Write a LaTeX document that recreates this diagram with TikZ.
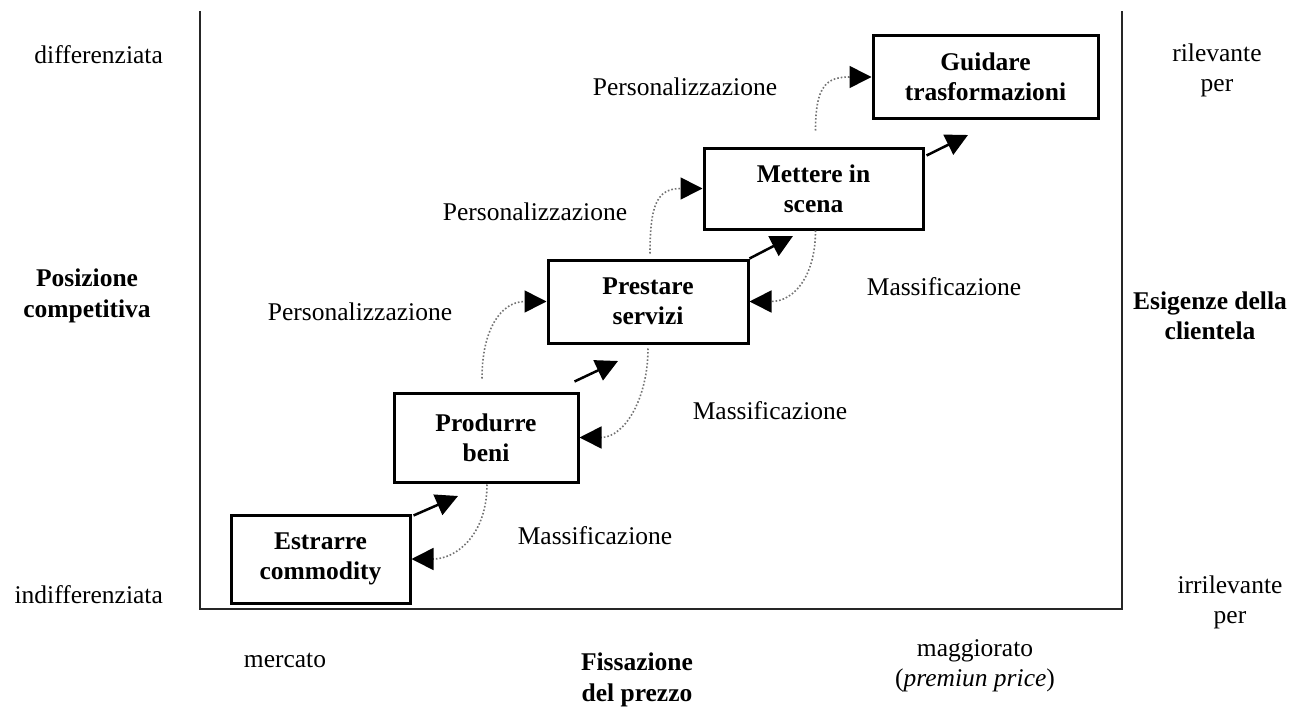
\documentclass[tikz,border=0pt]{standalone}
\usepackage{fontspec}
\setmainfont{Liberation Serif}
\usetikzlibrary{arrows.meta,calc}
\begin{document}
\begin{tikzpicture}[x=1pt,y=-1pt,
  box/.style={draw,line width=3pt,font=\bfseries\fontsize{25.5}{30}\selectfont,align=center,inner sep=0pt},
  lbl/.style={font=\fontsize{25.5}{30}\selectfont,align=center,inner sep=0pt},
  blbl/.style={font=\bfseries\fontsize{25.5}{30.5}\selectfont,align=center,inner sep=0pt},
  uparrow/.style={line width=2.5pt,-{Triangle[length=22pt,width=22pt]}},
  dotarrow/.style={line width=1.6pt,black!55,dash pattern=on 1.6pt off 2pt,-{Triangle[length=22pt,width=22pt,black]}},
  frame/.style={line width=2.5pt,black!85}
]
\useasboundingbox (0,0) rectangle (1304,709);

% frame
\draw[frame] (200,11) -- (200,609) -- (1122,609) -- (1122,11);

% boxes
\node[box,minimum width=179pt,minimum height=88pt] (e) at (320.5,559) {Estrarre\\commodity};
\node[box,minimum width=184pt,minimum height=89pt] (p) at (486,437.5) {Produrre\\beni};
\node[box,minimum width=200pt,minimum height=83pt] (s) at (648,301.5) {Prestare\\servizi};
\node[box,minimum width=219pt,minimum height=81pt] (m) at (813.5,188.5) {Mettere in\\scena};
\node[box,minimum width=225pt,minimum height=82pt] (g) at (985.5,77) {Guidare\\trasformazioni};

% solid arrows
\coordinate (t1) at (458,496);
\coordinate (t2) at (618,361);
\coordinate (t3) at (793,236);
\coordinate (t4) at (968,135);
\draw[uparrow] ($(e.north east)+(2,2)$) -- (t1);
\draw[uparrow] ($(p.north east)+(-5,-10)$) -- (t2);
\draw[uparrow] (s.north east) -- (t3);
\draw[uparrow] ($(m.north east)+(2,9)$) -- (t4);

% Personalizzazione arcs
\draw[dotarrow] ($(p.north)+(-4,-13)$) .. controls +(0,-50) and +(-45,0) .. (s.west);
\draw[dotarrow] ($(s.north)+(2,-5)$) .. controls +(0,-50) and +(-45,0) .. (m.west);
\draw[dotarrow] ($(m.north)+(2,-16)$) .. controls +(0,-45) and +(-45,0) .. (g.west);

% Massificazione arcs
\draw[dotarrow] ($(p.south)+(1,1)$) .. controls +(0,50) and +(45,0) .. (e.east);
\draw[dotarrow] ($(s.south)+(0,4)$) .. controls +(0,50) and +(45,0) .. (p.east);
\draw[dotarrow] ($(m.south)+(2,0)$) .. controls +(0,45) and +(45,0) .. (s.east);

% arc labels
\node[lbl] (l1) at (685,87) {Personalizzazione};
\node[lbl] (l2) at (535,212) {Personalizzazione};
\node[lbl] (l3) at (360,312) {Personalizzazione};
\node[lbl] (l4) at (944,287) {Massificazione};
\node[lbl] (l5) at (770,411) {Massificazione};
\node[lbl] (l6) at (595,536) {Massificazione};

% axis labels
\node[lbl,anchor=east] (dif) at (163,55) {differenziata};
\node[lbl,anchor=east] (ind) at (163,595) {indifferenziata};
\node[blbl] (pos) at (87,296) {Posizione\\competitiva};
\node[lbl] (ril) at (1217,70) {rilevante\\per};
\node[lbl] (irr) at (1230,602) {irrilevante\\per};
\node[blbl] (esi) at (1210,316) {Esigenze della\\clientela};
\node[lbl] (mer) at (285,660) {mercato};
\node[blbl] (fis) at (637,680) {Fissazione\\del prezzo};
\node[lbl] (mag) at (975,666) {maggiorato\\(\textit{premiun price})};
\end{tikzpicture}
\end{document}
